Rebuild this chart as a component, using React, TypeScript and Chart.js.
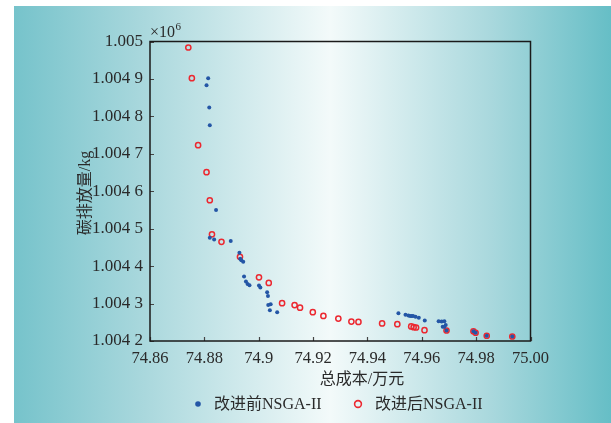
import React, { useEffect, useRef } from "react";
import { Chart, registerables } from "chart.js";

Chart.register(...registerables);

// Tick values and labels (y in units of 10^6 kg)
const xTicks = [74.86, 74.88, 74.9, 74.92, 74.94, 74.96, 74.98, 75.0];
const xTickLabels = ["74.86", "74.88", "74.9", "74.92", "74.94", "74.96", "74.98", "75.00"];
const yTicks = [1.0042, 1.0043, 1.0044, 1.0045, 1.0046, 1.0047, 1.0048, 1.0049, 1.005];
const yTickLabels = ["1.004 2", "1.004 3", "1.004 4", "1.004 5", "1.004 6", "1.004 7", "1.004 8", "1.004 9", "1.005"];

const xTitle = "总成本/万元";
const yTitle = "碳排放量/kg";
const yUnit = "×10";
const yUnitExp = "6";
const seriesNames = ["改进前NSGA-II", "改进后NSGA-II"];

// 改进前NSGA-II
const beforeX = [
  74.8814, 74.8808, 74.8818, 74.882, 74.8843, 74.882, 74.8836, 74.8897, 74.8929, 74.8932,
  74.8936, 74.8943, 74.8946, 74.8953, 74.8959, 74.8966, 74.9001, 74.9006, 74.9031, 74.9034,
  74.9035, 74.9044, 74.9041, 74.9068, 74.9514, 74.954, 74.9551, 74.9557, 74.9563, 74.9568,
  74.9577, 74.9589, 74.9611, 74.9662, 74.9673, 74.9683, 74.9688, 74.9677, 74.9683, 74.9691,
  74.979, 74.9798, 74.9839, 74.9933,
];
const beforeY = [
  1.004902, 1.004883, 1.004824, 1.004776, 1.00455, 1.004476, 1.004471, 1.004467, 1.004436, 1.00442,
  1.004416, 1.004412, 1.004372, 1.004359, 1.004352, 1.004349, 1.004348, 1.004343, 1.00433, 1.00432,
  1.004296, 1.004298, 1.004282, 1.004277, 1.004274, 1.00427, 1.004268, 1.004267, 1.004267, 1.004267,
  1.004265, 1.004262, 1.004255, 1.004253, 1.004252, 1.004253, 1.004243, 1.004238, 1.004238, 1.004228,
  1.004226, 1.004222, 1.004214, 1.004212,
];

// 改进后NSGA-II
const afterX = [
  74.8741, 74.8754, 74.8777, 74.8808, 74.882, 74.8828, 74.8863, 74.8931, 74.9001, 74.9037,
  74.9086, 74.9132, 74.9152, 74.9199, 74.9238, 74.9293, 74.9341, 74.9367, 74.9454, 74.951,
  74.9561, 74.957, 74.9579, 74.961, 74.9691, 74.979, 74.9798, 74.9839, 74.9933,
];
const afterY = [
  1.004984, 1.004902, 1.004723, 1.004651, 1.004576, 1.004485, 1.004465, 1.004425, 1.00437, 1.004355,
  1.004301, 1.004296, 1.004289, 1.004277, 1.004267, 1.00426, 1.004252, 1.004251, 1.004247, 1.004245,
  1.004239, 1.004237, 1.004236, 1.004229, 1.004228, 1.004226, 1.004222, 1.004214, 1.004212,
];

const BLUE = "#2456a6";
const RED = "#ec2830";
const SERIF = '"Liberation Serif", "Times New Roman", "Noto Sans CJK SC", serif';
const CJK = '"Liberation Serif", "Noto Sans CJK SC", serif';

const decorPlugin = {
  id: "decor",
  beforeDraw(chart: any) {
    const { ctx, width, height } = chart;
    ctx.save();
    ctx.fillStyle = "#ffffff";
    ctx.fillRect(0, 0, width, height);
    const g = ctx.createLinearGradient(14, 0, width, 0);
    g.addColorStop(0, "#76c3cb");
    g.addColorStop(0.22, "#aad8dd");
    g.addColorStop(0.53, "#f3fafa");
    g.addColorStop(0.8, "#a9d8dd");
    g.addColorStop(1, "#66bec6");
    ctx.fillStyle = g;
    ctx.fillRect(14, 6, width - 14, height - 6);
    ctx.restore();
  },
  afterDraw(chart: any) {
    const { ctx, chartArea } = chart;
    const { left, right, top, bottom } = chartArea;
    const xs = chart.scales.x;
    const ys = chart.scales.y;
    ctx.save();
    // inward ticks
    ctx.strokeStyle = "#444";
    ctx.lineWidth = 1.2;
    ctx.beginPath();
    xTicks.forEach((v) => {
      const px = Math.round(xs.getPixelForValue(v)) + 0.5;
      ctx.moveTo(px, bottom);
      ctx.lineTo(px, bottom - 4);
    });
    yTicks.forEach((v) => {
      const py = Math.round(ys.getPixelForValue(v)) + 0.5;
      ctx.moveTo(left, py);
      ctx.lineTo(left + 4, py);
    });
    ctx.stroke();
    // box
    ctx.strokeStyle = "#1a1a1a";
    ctx.lineWidth = 1.5;
    ctx.strokeRect(left, top, right - left, bottom - top);

    // axis titles
    ctx.fillStyle = "#2a2a2a";
    ctx.font = "16px " + CJK;
    ctx.textAlign = "center";
    ctx.textBaseline = "middle";
    ctx.fillText(xTitle, 362, 380);
    ctx.save();
    ctx.translate(86, 193);
    ctx.rotate(-Math.PI / 2);
    ctx.fillText(yTitle, 0, 0);
    ctx.restore();

    // x10^6
    ctx.textAlign = "left";
    ctx.textBaseline = "alphabetic";
    ctx.font = "16px " + SERIF;
    ctx.fillText(yUnit, left, 37);
    const w = ctx.measureText(yUnit).width;
    ctx.font = "11px " + SERIF;
    ctx.fillText(yUnitExp, left + w + 0.5, 30);

    // legend
    const ly = 404;
    ctx.fillStyle = BLUE;
    ctx.beginPath();
    ctx.arc(198, ly, 2.8, 0, Math.PI * 2);
    ctx.fill();
    ctx.strokeStyle = RED;
    ctx.lineWidth = 1.6;
    ctx.beginPath();
    ctx.arc(358, ly, 3.4, 0, Math.PI * 2);
    ctx.stroke();
    ctx.fillStyle = "#2a2a2a";
    ctx.font = "16px " + CJK;
    ctx.textBaseline = "middle";
    ctx.fillText(seriesNames[0], 214, ly + 1);
    ctx.fillText(seriesNames[1], 375, ly + 1);
    ctx.restore();
  },
};

export default function App() {
  const ref = useRef<HTMLCanvasElement | null>(null);
  useEffect(() => {
    if (!ref.current) return;
    const chart = new Chart(ref.current, {
      type: "scatter",
      data: {
        datasets: [
          {
            label: seriesNames[1],
            data: afterX.map((x, i) => ({ x, y: afterY[i] })),
            pointRadius: 2.6,
            pointBorderWidth: 1.5,
            pointBorderColor: RED,
            pointBackgroundColor: "rgba(255,255,255,0)",
            order: 2,
          },
          {
            label: seriesNames[0],
            data: beforeX.map((x, i) => ({ x, y: beforeY[i] })),
            pointRadius: 2,
            pointBorderWidth: 0,
            pointBackgroundColor: BLUE,
            pointBorderColor: BLUE,
            order: 1,
          },
        ],
      },
      options: {
        responsive: false,
        animation: false,
        events: [],
        layout: { padding: { left: 0, top: 41.5, right: 80.5, bottom: 0 } },
        plugins: { legend: { display: false }, tooltip: { enabled: false }, title: { display: false } },
        scales: {
          x: {
            type: "linear",
            min: 74.86,
            max: 75.0,
            grid: { display: false, drawTicks: false },
            border: { display: false },
            afterBuildTicks: (s: any) => {
              s.ticks = xTicks.map((v) => ({ value: v }));
            },
            afterFit: (s: any) => {
              s.height = 82;
            },
            ticks: {
              autoSkip: false,
              maxRotation: 0,
              padding: 8,
              color: "#2a2a2a",
              font: { family: SERIF, size: 16.5 },
              callback: (_v: any, i: number) => xTickLabels[i],
            },
          },
          y: {
            type: "linear",
            min: 1.0042,
            max: 1.005,
            grid: { display: false, drawTicks: false },
            border: { display: false },
            afterBuildTicks: (s: any) => {
              s.ticks = yTicks.map((v) => ({ value: v }));
            },
            afterFit: (s: any) => {
              s.width = 150;
            },
            ticks: {
              autoSkip: false,
              padding: 7,
              color: "#2a2a2a",
              font: { family: SERIF, size: 17 },
              callback: (_v: any, i: number) => yTickLabels[i],
            },
          },
        },
      },
      plugins: [decorPlugin],
    } as any);
    return () => chart.destroy();
  }, []);
  return (
    <div style={{ position: "absolute", left: 0, top: 0, width: 611, height: 423 }}>
      <canvas ref={ref} width={611} height={423} style={{ display: "block" }} />
    </div>
  );
}
